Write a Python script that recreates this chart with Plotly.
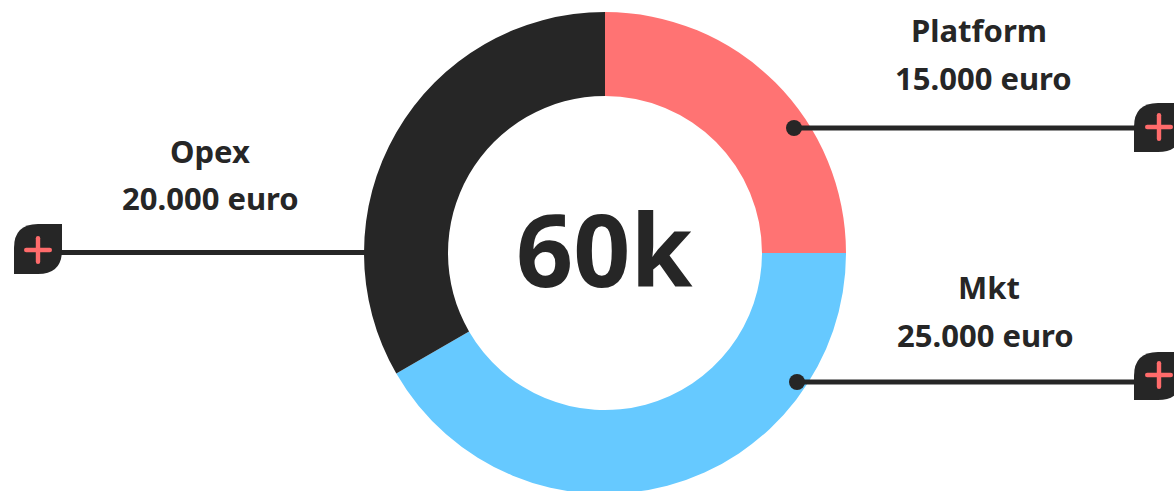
import plotly.graph_objects as go

labels = ["Platform", "Mkt", "Opex"]
values = [15000, 25000, 20000]
amounts = ["15.000 euro", "25.000 euro", "20.000 euro"]
colors = ["#ff7373", "#66c9ff", "#262626"]
center_text = "60k"

W, H = 1174, 500
DARK = "#262626"
PINK = "#ff6b6b"
FONT = "Noto Sans"


def px(x):
    return x / W


def py(y):
    return 1 - y / H


def path(points):
    out = []
    for cmd, *xy in points:
        coords = [f"{px(xy[i]):.6f},{py(xy[i + 1]):.6f}" for i in range(0, len(xy), 2)]
        out.append(cmd + " " + " ".join(coords))
    return " ".join(out) + " Z"


def badge(x0, y0, x1, y1, r=24):
    return dict(
        type="path", xref="paper", yref="paper", line_width=0, fillcolor=DARK, layer="above",
        path=path([
            ("M", x0, y0 + r), ("Q", x0, y0, x0 + r, y0), ("L", x1, y0),
            ("L", x1, y1 - r), ("Q", x1, y1, x1 - r, y1), ("L", x0, y1),
        ]),
    )


def bar(x0, y0, x1, y1):
    return dict(type="rect", xref="paper", yref="paper", x0=px(x0), x1=px(x1), y0=py(y0), y1=py(y1),
                line_width=0, fillcolor=DARK, layer="above")


def pill(x0, y0, x1, y1):
    r = min(x1 - x0, y1 - y0) / 2
    if x1 - x0 > y1 - y0:
        pts = [("M", x0 + r, y0), ("L", x1 - r, y0), ("Q", x1, y0, x1, y0 + r), ("Q", x1, y1, x1 - r, y1),
               ("L", x0 + r, y1), ("Q", x0, y1, x0, y0 + r), ("Q", x0, y0, x0 + r, y0)]
    else:
        pts = [("M", x0, y0 + r), ("Q", x0, y0, x0 + r, y0), ("Q", x1, y0, x1, y0 + r), ("L", x1, y1 - r),
               ("Q", x1, y1, x0 + r, y1), ("Q", x0, y1, x0, y1 - r)]
    return dict(type="path", xref="paper", yref="paper", line_width=0, fillcolor=PINK, layer="above", path=path(pts))


def plus(cx, cy, arm=14, t=4.4):
    return [pill(cx - arm, cy - t / 2, cx + arm, cy + t / 2), pill(cx - t / 2, cy - arm, cx + t / 2, cy + arm)]


def dot(cx, cy, r=8):
    return dict(type="circle", xref="paper", yref="paper", x0=px(cx - r), x1=px(cx + r), y0=py(cy - r), y1=py(cy + r),
                line_width=0, fillcolor=DARK, layer="above")


shapes = [
    bar(794, 125.5, 1136, 130.5), dot(794, 128), badge(1134, 103, 1182, 152), *plus(1159, 127),
    bar(797, 379.5, 1136, 384.5), dot(797, 382), badge(1134, 352, 1182, 400), *plus(1159, 375),
    bar(60, 250, 366, 255), badge(14, 224, 62, 274), *plus(38, 250),
]


def text(x, y, s, size=31):
    return dict(xref="paper", yref="paper", x=px(x), y=py(y), text=f"<b>{s}</b>", showarrow=False,
                xanchor="center", yanchor="middle", font=dict(family=FONT, size=size, color=DARK))


annotations = [
    text(979, 30, labels[0]), text(983, 78, amounts[0]),
    text(989, 287, labels[1]), text(985, 335, amounts[1]),
    text(210, 151, labels[2]), text(210, 198, amounts[2]),
    text(604, 248, center_text, size=100),
]

fig = go.Figure(go.Pie(
    labels=labels, values=values, hole=157 / 241, sort=False, direction="clockwise", rotation=0,
    marker=dict(colors=colors, line=dict(width=0)), textinfo="none", hoverinfo="label+value", showlegend=False,
    domain=dict(x=[px(364), px(846)], y=[py(494), py(12)]),
))
fig.update_layout(width=W, height=H, margin=dict(l=0, r=0, t=0, b=0), autosize=False,
                  paper_bgcolor="white", plot_bgcolor="white", shapes=shapes, annotations=annotations)
fig.write_html("out.html", config={"displayModeBar": False},
               post_script="document.body.style.margin='0';document.body.style.overflow='hidden';")
